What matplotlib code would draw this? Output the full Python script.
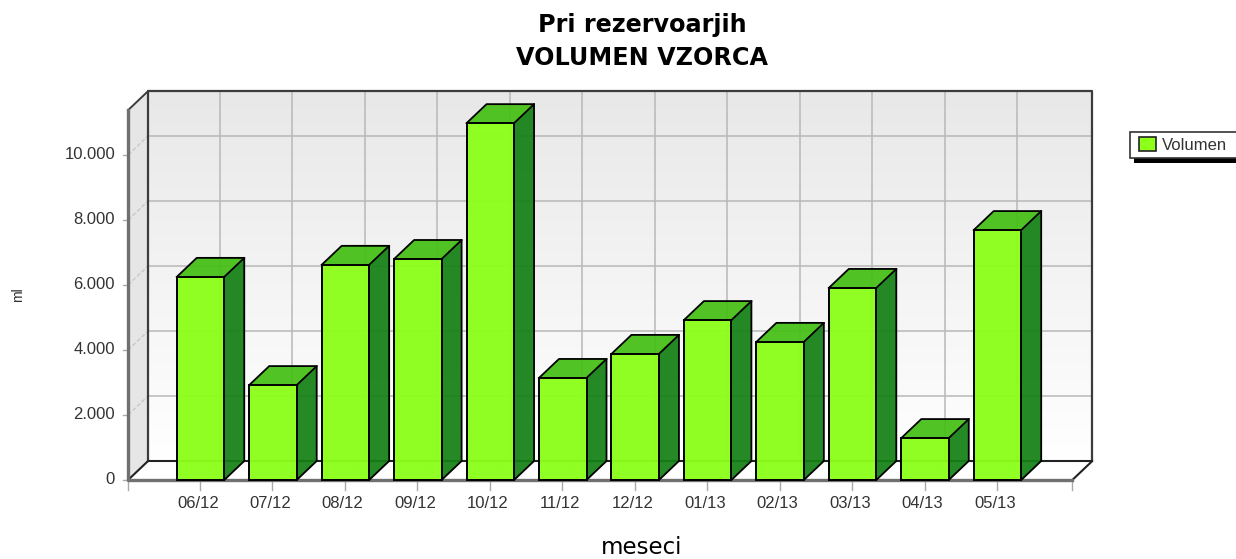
import numpy as np
import matplotlib
matplotlib.use('Agg')
import matplotlib.pyplot as plt
from matplotlib.patches import Polygon, Rectangle

months = ['06/12', '07/12', '08/12', '09/12', '10/12', '11/12',
          '12/12', '01/13', '02/13', '03/13', '04/13', '05/13']
volumes = [6250, 2920, 6620, 6800, 10980, 3140, 3880, 4920, 4250, 5910, 1290, 7690]
yTicks = [0, 2000, 4000, 6000, 8000, 10000]
yTickLabels = ['0', '2.000', '4.000', '6.000', '8.000', '10.000']

W, H = 1236, 559
pxPerCat = 72.45
pxPerVal = 0.0325

# depth of the fake 3d box, in data units
depthX = 20 / pxPerCat
depthY = 19 / pxPerVal
barW = 47.5 / pxPerCat
barShift = 0.5 / pxPerCat
xMin, xMax = -0.993, 12.04
yMax = 11380

fig = plt.figure(figsize=(W / 100, H / 100), dpi=100, facecolor='white')
ax = fig.add_axes([0, 0, 1, 1])
ax.axis('off')

gridCol = '#b8b8b8'
edgeCol = '#3c3c3c'
tickCol = '#aaaaaa'
textCol = '#333333'

# back wall with gradient
grad = np.linspace(0, 1, 256).reshape(-1, 1)
ax.imshow(grad, extent=(xMin + depthX, xMax + depthX, depthY, yMax + depthY),
          cmap=matplotlib.colors.LinearSegmentedColormap.from_list('w', ['#e8e8e8', '#ffffff']),
          vmin=0, vmax=1, aspect='auto', origin='upper', zorder=1)
ax.set_xlim(-200 / pxPerCat, (W - 200) / pxPerCat)
ax.set_ylim(-(H - 480) / pxPerVal, 480 / pxPerVal)

# left wall
ax.add_patch(Polygon([(xMin, 0), (xMin + depthX, depthY), (xMin + depthX, yMax + depthY), (xMin, yMax)],
                     closed=True, fc='#e6e6e6', ec='none', zorder=1))

# grid on the back wall and the left wall
for v in yTicks[1:]:
    ax.plot([xMin + depthX, xMax + depthX], [v + depthY, v + depthY], color=gridCol, lw=1.1, zorder=2)
    ax.plot([xMin, xMin + depthX], [v, v + depthY], color='#c8c8c8', lw=1, ls=(0, (3, 1.5)), zorder=2)
    ax.plot([xMin - 0.07, xMin], [v, v], color=tickCol, lw=1, zorder=2)
for i in range(len(months)):
    ax.plot([i + depthX, i + depthX], [depthY, yMax + depthY], color=gridCol, lw=1.1, zorder=2)
    ax.plot([i, i + depthX], [0, depthY], color='#eeeeee', lw=1, zorder=2)
    ax.plot([i, i], [0, -300], color=tickCol, lw=1, zorder=2)
ax.plot([xMin, xMin], [0, -300], color=tickCol, lw=1, zorder=2)
ax.plot([xMax, xMax], [0, -300], color=tickCol, lw=1, zorder=2)
ax.plot([xMin - 0.07, xMin], [0, 0], color=tickCol, lw=1, zorder=2)

# box outline
ax.plot([xMin + depthX, xMin + depthX, xMax + depthX, xMax + depthX],
        [depthY, yMax + depthY, yMax + depthY, depthY], color=edgeCol, lw=1.6, zorder=3)
ax.plot([xMin, xMin + depthX, xMax + depthX, xMax], [0, depthY, depthY, 0], color='#222222', lw=1.5, zorder=3)
ax.plot([xMin, xMin + depthX], [yMax, yMax + depthY], color=edgeCol, lw=1.4, zorder=3)
ax.plot([xMax, xMin, xMin], [0, 0, yMax], color='#707070', lw=2.4, zorder=3)

# bars
for i, v in enumerate(volumes):
    l = i - barW / 2 + barShift
    r = i + barW / 2 + barShift
    ax.add_patch(Rectangle((l, 0), barW, v, fc=(0.55, 1, 0.1, 0.96), ec='none', zorder=4 + i))
    ax.add_patch(Polygon([(r, 0), (r + depthX, depthY), (r + depthX, v + depthY), (r, v)], closed=True,
                         fc=(0.08, 0.5, 0.08, 0.93), ec='none', zorder=4 + i))
    ax.add_patch(Polygon([(l, v), (r, v), (r + depthX, v + depthY), (l + depthX, v + depthY)], closed=True,
                         fc=(0.27, 0.75, 0.08, 0.93), ec='none', zorder=4 + i))
    ax.plot([l, l, r, r, l], [0, v, v, 0, 0], color='black', lw=1.4, zorder=4 + i, solid_joinstyle='miter')
    ax.plot([r, r + depthX, r + depthX, r], [0, depthY, v + depthY, v], color='black', lw=1.3, zorder=4 + i)
    ax.plot([l, l + depthX, r + depthX], [v, v + depthY, v + depthY], color='black', lw=1.3, zorder=4 + i)

# tick labels
for i, m in enumerate(months):
    ax.text(i - 0.03, -720, m, ha='center', va='center', fontsize=12, color=textCol, family='Liberation Sans')
for v, lab in zip(yTicks, yTickLabels):
    ax.text(xMin - 0.18, v + 20, lab, ha='right', va='center', fontsize=12, color=textCol, family='Liberation Sans')

# titles, placed in figure fractions
titleFont = 'DejaVu Sans'
fig.text(642 / W, 1 - 25 / H, 'Pri rezervoarjih', ha='center', va='center', fontsize=17.2,
         fontweight='bold', family=titleFont)
fig.text(642 / W, 1 - 58 / H, 'VOLUMEN VZORCA', ha='center', va='center', fontsize=17.2,
         fontweight='bold', family=titleFont)
fig.text(642 / W, 1 - 547 / H, 'meseci', ha='center', va='center', fontsize=16.5, family=titleFont)
fig.text(18 / W, 1 - 295 / H, 'ml', ha='center', va='center', rotation=90, fontsize=10,
         color=textCol, family='Liberation Sans')

# legend box
legAx = fig.add_axes([0, 0, 1, 1], facecolor='none')
legAx.set_xlim(0, W)
legAx.set_ylim(H, 0)
legAx.axis('off')
legAx.add_patch(Rectangle((1134, 150), 102, 13, fc='black', ec='none', zorder=1))
legAx.add_patch(Rectangle((1130, 132), 107, 26, fc='white', ec='#333333', lw=1.2, zorder=2))
legAx.add_patch(Rectangle((1139, 137), 17, 14, fc='#8cff1a', ec='#222222', lw=1.2, zorder=3))
legAx.text(1162, 145.5, 'Volumen', ha='left', va='center', fontsize=12, color=textCol,
           family='Liberation Sans', zorder=3)

fig.savefig('out.png', dpi=100)
